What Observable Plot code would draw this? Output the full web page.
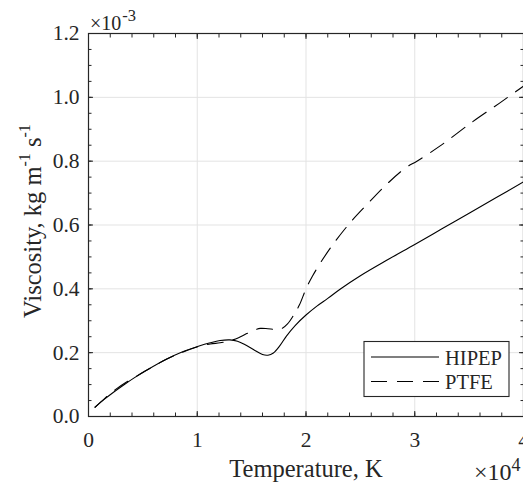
<!DOCTYPE html>
<html><head><meta charset="utf-8">
<script src="https://cdn.jsdelivr.net/npm/d3@7"></script>
<script src="https://cdn.jsdelivr.net/npm/@observablehq/plot@0.6"></script>
<style>
body{margin:0;background:#fff;}
#chart{position:relative;width:523px;height:482px;overflow:hidden;}
#chart svg, #chart svg text{font-family:'Liberation Serif','Times New Roman',Times,serif;}
</style></head><body><div id="chart"></div>
<script>
// Temperature in units of 1e4 K, viscosity in units of 1e-3 kg m^-1 s^-1
const tempHIPEP = [0.06,0.15,0.23,0.32,0.42,0.55,0.72,0.86,1.01,1.12,1.21,1.30,1.37,1.45,1.53,1.60,1.65,1.70,1.76,1.82,1.90,2.00,2.10,2.20,2.31,2.50,2.75,3.00,3.25,3.50,3.75,4.00];
const viscHIPEP = [0.029,0.055,0.076,0.098,0.121,0.148,0.180,0.202,0.220,0.231,0.238,0.240,0.236,0.223,0.207,0.194,0.192,0.199,0.222,0.252,0.285,0.318,0.346,0.370,0.398,0.441,0.491,0.539,0.588,0.637,0.686,0.735];
const tempPTFE = [0.06,0.15,0.25,0.35,0.45,0.55,0.72,0.86,1.01,1.12,1.21,1.30,1.38,1.45,1.52,1.58,1.65,1.72,1.78,1.83,1.88,1.94,2.00,2.06,2.13,2.25,2.40,2.56,2.74,2.92,3.02,3.23,3.53,3.78,4.00];
const viscPTFE = [0.029,0.057,0.085,0.108,0.128,0.148,0.180,0.201,0.219,0.227,0.231,0.237,0.247,0.259,0.270,0.276,0.275,0.273,0.276,0.290,0.314,0.350,0.400,0.440,0.480,0.540,0.605,0.664,0.727,0.780,0.800,0.847,0.923,0.982,1.035];
const seriesNames = ["HIPEP", "PTFE"];
const xTicks = [0, 1, 2, 3, 4];
const xTickLabels = ["0", "1", "2", "3", "4"];
const yTicks = [0, 0.2, 0.4, 0.6, 0.8, 1.0, 1.2];
const yTickLabels = ["0.0", "0.2", "0.4", "0.6", "0.8", "1.0", "1.2"];
const xMinorTicks = [0,0.2,0.4,0.6,0.8,1,1.2,1.4,1.6,1.8,2,2.2,2.4,2.6,2.8,3,3.2,3.4,3.6,3.8,4];
const yMinorTicks = [0,0.05,0.1,0.15,0.2,0.25,0.3,0.35,0.4,0.45,0.5,0.55,0.6,0.65,0.7,0.75,0.8,0.85,0.9,0.95,1,1.05,1.1,1.15,1.2];

const font = "'Liberation Serif','Times New Roman',Times,serif";
const ink = "#262626";
const hipep = tempHIPEP.map((t, i) => ({t, v: viscHIPEP[i]}));
const ptfe = tempPTFE.map((t, i) => ({t, v: viscPTFE[i]}));

const tickOpts = {stroke: ink, text: null, label: null};
const plot = Plot.plot({
  width: 523, height: 482,
  marginLeft: 88, marginRight: 0, marginTop: 33, marginBottom: 66,
  style: {fontFamily: font, fontSize: "21.5px", color: ink, background: "#fff", overflow: "visible"},
  x: {domain: [0, 4], label: null},
  y: {domain: [0, 1.2], label: null},
  marks: [
    Plot.gridX(xTicks.slice(1, -1), {stroke: "#e3e3e3", strokeOpacity: 1, strokeWidth: 1}),
    Plot.gridY(yTicks.slice(1, -1), {stroke: "#e3e3e3", strokeOpacity: 1, strokeWidth: 1}),
    Plot.line(hipep, {x: "t", y: "v", stroke: "#000", strokeWidth: 1.1, curve: "catmull-rom"}),
    Plot.line(ptfe, {x: "t", y: "v", stroke: "#000", strokeWidth: 1.1, strokeDasharray: "16,10", curve: "catmull-rom"}),
    Plot.axisX(xMinorTicks, {...tickOpts, anchor: "bottom", tickSize: -3.5}),
    Plot.axisX(xMinorTicks, {...tickOpts, anchor: "top", tickSize: -3.5}),
    Plot.axisY(yMinorTicks, {...tickOpts, anchor: "left", tickSize: -3.5}),
    Plot.axisY(yMinorTicks, {...tickOpts, anchor: "right", tickSize: -3.5}),
    Plot.axisX(xTicks, {...tickOpts, anchor: "bottom", tickSize: -5}),
    Plot.axisX(xTicks, {...tickOpts, anchor: "top", tickSize: -5}),
    Plot.axisY(yTicks, {...tickOpts, anchor: "left", tickSize: -5}),
    Plot.axisY(yTicks, {...tickOpts, anchor: "right", tickSize: -5}),
    Plot.axisX(xTicks, {anchor: "bottom", tickSize: 0, tickPadding: 15, label: null, fill: ink,
      fontFamily: font, fontSize: 21.5, tickFormat: d => xTickLabels[xTicks.indexOf(d)]}),
    Plot.axisY(yTicks, {anchor: "left", tickSize: 0, tickPadding: 9, label: null, fill: ink,
      fontFamily: font, fontSize: 21.5, tickFormat: d => yTickLabels[yTicks.indexOf(d)]}),
    Plot.frame({stroke: ink, strokeWidth: 1.2})
  ]
});
document.getElementById("chart").appendChild(plot);

const svg = d3.select(plot);
const ann = svg.append("g").attr("font-family", font).attr("fill", ink).attr("text-anchor", "start");

// x axis title
ann.append("text").attr("x", 306).attr("y", 477).attr("text-anchor", "middle")
  .attr("font-size", 24.5).text("Temperature, K");

// y axis title with superscripts
const yl = ann.append("text").attr("transform", "translate(41,221) rotate(-90)")
  .attr("text-anchor", "middle").attr("font-size", 24.5);
yl.append("tspan").text("Viscosity, kg m");
yl.append("tspan").attr("dy", -11).attr("font-size", 16).text("-1");
yl.append("tspan").attr("dy", 11).text(" s");
yl.append("tspan").attr("dy", -11).attr("font-size", 16).text("-1");

// exponent multipliers
const ey = ann.append("text").attr("x", 90).attr("y", 30).attr("font-size", 20).attr("text-anchor", "start");
ey.append("tspan").text("\u00d710");
ey.append("tspan").attr("dy", -9).attr("dx", 1).attr("font-size", 16.5).text("-3");
const ex = ann.append("text").attr("x", 474).attr("y", 480).attr("font-size", 24).attr("text-anchor", "start");
ex.append("tspan").text("\u00d710");
ex.append("tspan").attr("dy", -9).attr("font-size", 18).text("4");

// legend
const lg = svg.append("g").attr("text-anchor", "start");
lg.append("rect").attr("x", 364).attr("y", 341.5).attr("width", 145).attr("height", 55)
  .attr("fill", "#fff").attr("stroke", ink).attr("stroke-width", 1.1);
const dashes = [null, "16,10"];
seriesNames.forEach((name, i) => {
  const cy = 357 + i * 24.5;
  lg.append("line").attr("x1", 371).attr("x2", 439).attr("y1", cy).attr("y2", cy)
    .attr("stroke", "#000").attr("stroke-width", 1.1).attr("stroke-dasharray", dashes[i]);
  lg.append("text").attr("x", 445).attr("y", cy + 7.5).attr("font-family", font)
    .attr("font-size", 20.5).attr("fill", ink).attr("text-anchor", "start").text(name);
});
</script></body></html>
